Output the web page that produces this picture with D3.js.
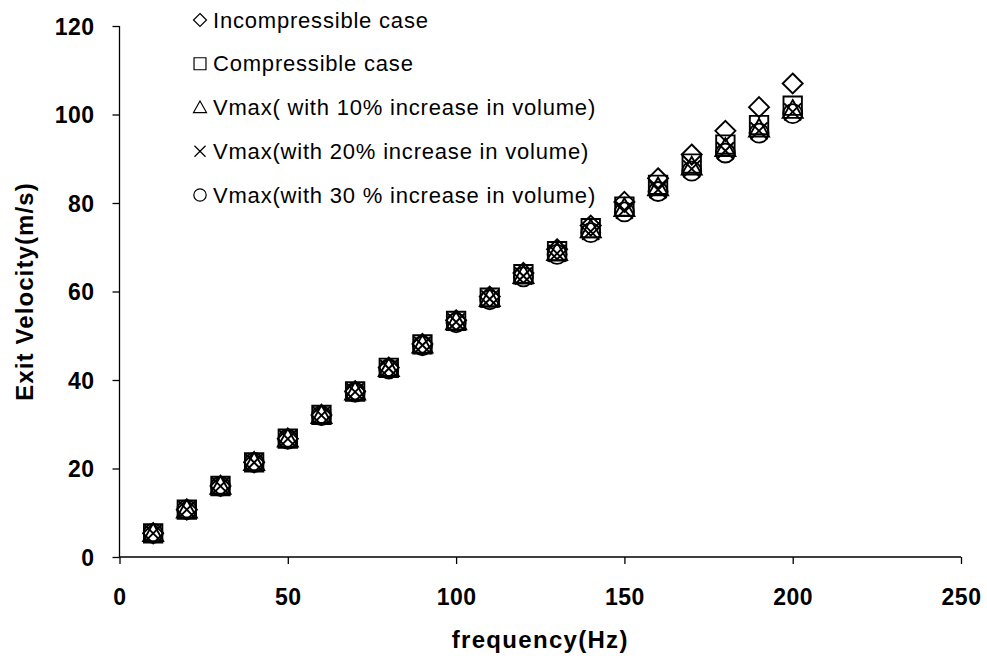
<!DOCTYPE html>
<html>
<head>
<meta charset="utf-8">
<script src="https://cdn.jsdelivr.net/npm/d3@7"></script>
<style>
  body { margin: 0; background: #fff; }
  text { font-family: "Liberation Sans", Arial, sans-serif; fill: #000; }
</style>
</head>
<body>
<div id="chart"></div>
<script>
// frequency (Hz) and exit velocity (m/s) for each case
let frequency = [10, 20, 30, 40, 50, 60, 70, 80, 90, 100, 110, 120, 130, 140, 150, 160, 170, 180, 190, 200];
let incompressible = [5.35, 10.7, 16.05, 21.4, 26.75, 32.1, 37.45, 42.8, 48.15, 53.5, 58.85, 64.2, 69.55, 74.9, 80.25, 85.6, 90.95, 96.3, 101.65, 107.0];
let compressible = [5.35, 10.7, 16.05, 21.4, 26.75, 32.1, 37.4, 42.75, 48.05, 53.35, 58.6, 63.9, 69.1, 74.3, 79.2, 84.1, 88.9, 93.2, 97.6, 102.0];
let vmax10 = [5.35, 10.7, 16.05, 21.4, 26.7, 32.05, 37.35, 42.65, 47.95, 53.2, 58.45, 63.7, 68.85, 74.0, 78.8, 83.5, 88.2, 92.4, 96.8, 101.0];
let vmax20 = [5.35, 10.7, 16.0, 21.35, 26.7, 32.0, 37.3, 42.6, 47.85, 53.1, 58.3, 63.5, 68.6, 73.6, 78.4, 83.0, 87.7, 91.8, 96.3, 100.6];
let vmax30 = [5.35, 10.7, 16.0, 21.35, 26.65, 31.95, 37.25, 42.5, 47.75, 52.95, 58.15, 63.3, 68.4, 73.3, 78.0, 82.6, 87.2, 91.3, 95.8, 100.2];

let seriesNames = ['Incompressible case', 'Compressible case', 'Vmax( with 10% increase in volume)',
  'Vmax(with 20% increase in volume)', 'Vmax(with 30 % increase in volume)'];
let seriesShapes = ['diamond', 'square', 'triangle', 'cross', 'circle'];
let xTicks = [0, 50, 100, 150, 200, 250];
let yTicks = [0, 20, 40, 60, 80, 100, 120];

let svgWidth = 987;
let svgHeight = 658;
let margin = { top: 26, right: 26, bottom: 101, left: 119.5 };
let width = svgWidth - margin.left - margin.right;
let height = svgHeight - margin.top - margin.bottom;

let svg = d3.select('#chart').append('svg')
  .attr('width', svgWidth)
  .attr('height', svgHeight);

let chartGroup = svg.append('g')
  .attr('transform', `translate(${margin.left}, ${margin.top})`);

let xScale = d3.scaleLinear().domain([0, 250]).range([0, width]);
let yScale = d3.scaleLinear().domain([0, 120]).range([height, 0]);

// marker path builder, s = overall size
function markerPath(shape, s) {
  let h = s / 2;
  let p = d3.path();
  if (shape === 'diamond') {
    p.moveTo(0, -h); p.lineTo(h, 0); p.lineTo(0, h); p.lineTo(-h, 0); p.closePath();
  } else if (shape === 'square') {
    let q = h * 0.92;
    p.rect(-q, -q, 2 * q, 2 * q);
  } else if (shape === 'triangle') {
    p.moveTo(0, -h); p.lineTo(h, h * 0.78); p.lineTo(-h, h * 0.78); p.closePath();
  } else if (shape === 'cross') {
    let q = h * 0.85;
    p.moveTo(-q, -q); p.lineTo(q, q); p.moveTo(q, -q); p.lineTo(-q, q);
  } else {
    p.arc(0, 0, h * 0.95, 0, 2 * Math.PI);
  }
  return p.toString();
}

// axes
let bottomAxis = d3.axisBottom(xScale).tickValues(xTicks).tickSize(7).tickFormat(d3.format('d'));
let leftAxis = d3.axisLeft(yScale).tickValues(yTicks).tickSize(7).tickFormat(d3.format('d'));

let xAxis = chartGroup.append('g')
  .attr('transform', `translate(0, ${height})`)
  .call(bottomAxis);
xAxis.select('.domain').attr('d', `M0,0H${width}`);

let yAxis = chartGroup.append('g').call(leftAxis);
yAxis.select('.domain').attr('d', `M0,${height}V0`);

[xAxis, yAxis].forEach(ax => {
  ax.selectAll('.domain, line').attr('stroke', '#000').attr('stroke-width', 1.3);
  ax.selectAll('text')
    .style('font-family', '"Liberation Sans", Arial, sans-serif')
    .style('font-weight', 'bold')
    .style('font-size', '23px')
    .style('letter-spacing', '0.5px')
    .attr('fill', '#000');
});
xAxis.selectAll('text').attr('dy', null).attr('y', 48);
yAxis.selectAll('text').attr('x', -25).attr('dy', '0.36em');

// axis titles
svg.append('text')
  .attr('x', margin.left + width / 2)
  .attr('y', 648)
  .attr('text-anchor', 'middle')
  .style('font-weight', 'bold')
  .style('font-size', '24px')
  .style('letter-spacing', '1.3px')
  .text('frequency(Hz)');

svg.append('text')
  .attr('transform', `translate(33, ${margin.top + height / 2}) rotate(-90)`)
  .attr('text-anchor', 'middle')
  .style('font-weight', 'bold')
  .style('font-size', '24px')
  .style('letter-spacing', '1.1px')
  .text('Exit Velocity(m/s)');

// points
let allSeries = [incompressible, compressible, vmax10, vmax20, vmax30];
allSeries.forEach((values, i) => {
  chartGroup.append('g')
    .selectAll('path')
    .data(frequency.map((f, j) => ({ f: f, v: values[j] })))
    .enter()
    .append('path')
    .attr('transform', d => `translate(${xScale(d.f)}, ${yScale(d.v)})`)
    .attr('d', markerPath(seriesShapes[i], 20))
    .attr('fill', 'none')
    .attr('stroke', '#000')
    .attr('stroke-width', 1.9);
});

// legend
let legend = svg.append('g').attr('transform', 'translate(200, 20)');
seriesNames.forEach((name, i) => {
  let row = legend.append('g').attr('transform', `translate(0, ${i * 43.75})`);
  row.append('path')
    .attr('d', markerPath(seriesShapes[i], 13))
    .attr('fill', 'none')
    .attr('stroke', '#000')
    .attr('stroke-width', 1.2);
  row.append('text')
    .attr('x', 13)
    .attr('y', 7.5)
    .style('font-size', '22px')
    .style('letter-spacing', '0.8px')
    .text(name);
});
</script>
</body>
</html>
